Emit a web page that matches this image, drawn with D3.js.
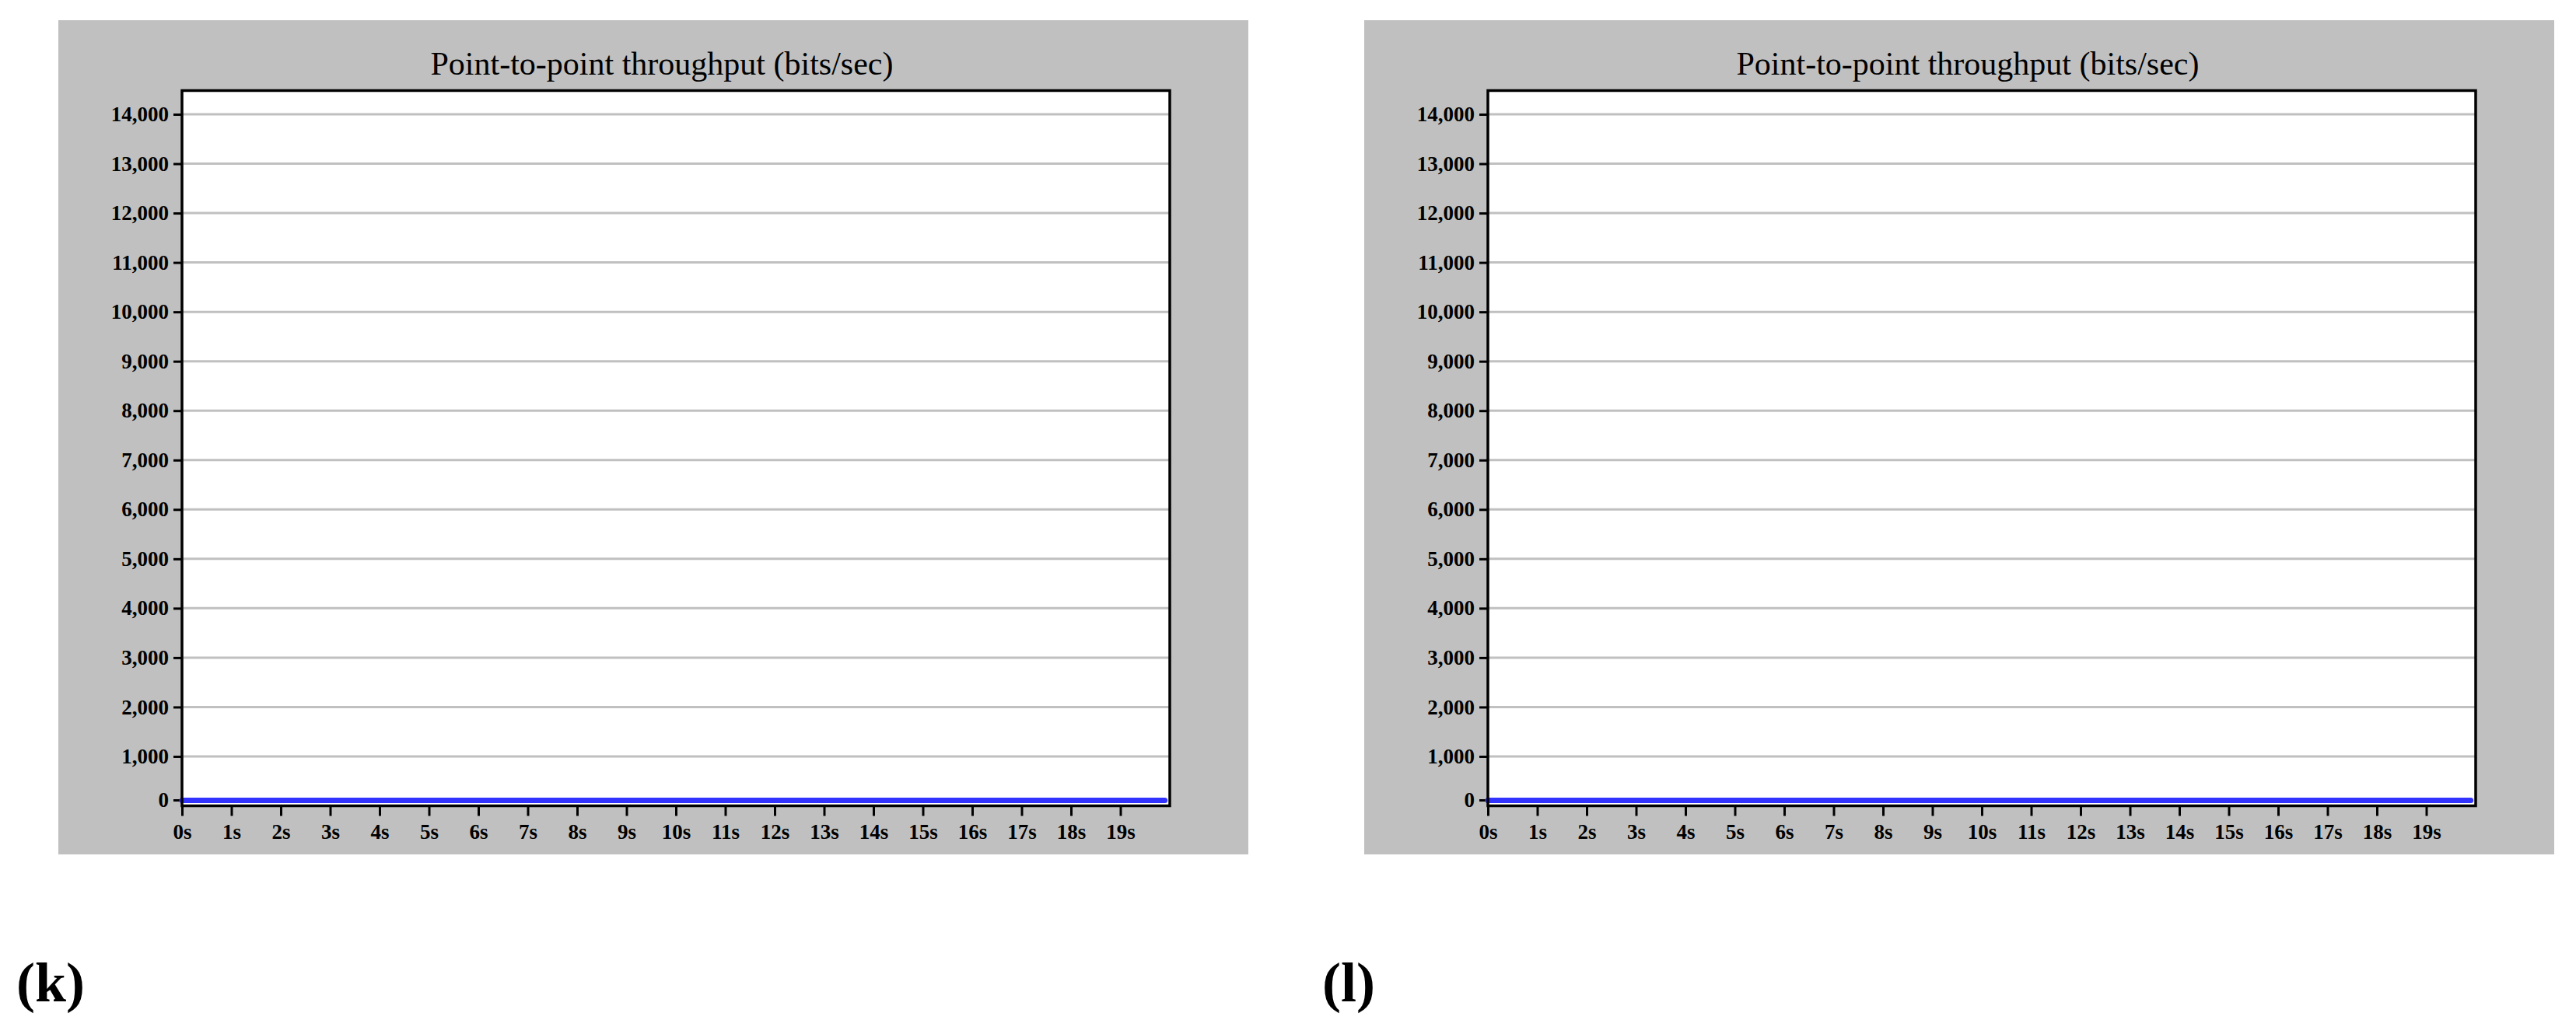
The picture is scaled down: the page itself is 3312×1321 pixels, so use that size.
<!DOCTYPE html>
<html>
<head>
<meta charset="utf-8">
<script src="https://cdn.jsdelivr.net/npm/d3@7"></script>
<style>
  body { margin: 0; background: #fff; }
  text { font-family: "Liberation Serif", "Times New Roman", serif; }
</style>
</head>
<body>
<svg id="viz"></svg>
<script>
var width = 3312;
var height = 1321;

// chart data
var chartTitle = "Point-to-point throughput (bits/sec)";
var panelNames = ["(k)", "(l)"];
var timeSec = [0, 1, 2, 3, 4, 5, 6, 7, 8, 9, 10, 11, 12, 13, 14, 15, 16, 17, 18, 19, 19.9];
var throughputK = [0, 0, 0, 0, 0, 0, 0, 0, 0, 0, 0, 0, 0, 0, 0, 0, 0, 0, 0, 0, 0];
var throughputL = [0, 0, 0, 0, 0, 0, 0, 0, 0, 0, 0, 0, 0, 0, 0, 0, 0, 0, 0, 0, 0];
var yTicks = [0, 1000, 2000, 3000, 4000, 5000, 6000, 7000, 8000, 9000, 10000, 11000, 12000, 13000, 14000];
var xTicks = [0, 1, 2, 3, 4, 5, 6, 7, 8, 9, 10, 11, 12, 13, 14, 15, 16, 17, 18, 19];

var series = [throughputK, throughputL];

var svg = d3.select("#viz")
  .attr("width", width)
  .attr("height", height);

svg.append("rect").attr("width", width).attr("height", height).attr("fill", "#fff");

// panel geometry (left panel, right one is shifted)
var panelShift = 1679;
var bg = { x: 75, y: 26, w: 1530, h: 1073 };
var plot = { left: 234, top: 116.5, right: 1504, bottom: 1036.5 };
var zeroNudge = -7; // the renderer draws the zero line a bit above the frame

var x = d3.scaleLinear().domain([0, 20]).range([plot.left, plot.right]);
var y = d3.scaleLinear().domain([0, 14000]).range([plot.bottom, plot.top + 30.5]);

panelNames.forEach(function (name, i) {
  var g = svg.append("g").attr("transform", "translate(" + (i * panelShift) + ",0)");

  g.append("rect")
    .attr("x", bg.x).attr("y", bg.y)
    .attr("width", bg.w).attr("height", bg.h)
    .attr("fill", "#c0c0c0");

  g.append("rect")
    .attr("x", plot.left).attr("y", plot.top)
    .attr("width", plot.right - plot.left).attr("height", plot.bottom - plot.top)
    .attr("fill", "#fff");

  // gridlines
  g.append("g")
    .selectAll("line")
    .data(yTicks.filter(d => d > 0))
    .join("line")
    .attr("x1", plot.left).attr("x2", plot.right)
    .attr("y1", d => y(d)).attr("y2", d => y(d))
    .attr("stroke", "#c0c0c0")
    .attr("stroke-width", 3);

  // y axis
  var yAxis = g.append("g")
    .attr("transform", "translate(" + plot.left + ",0)")
    .call(d3.axisLeft(y).tickValues(yTicks).tickFormat(d3.format(",")).tickSize(11).tickPadding(6));
  yAxis.select(".domain").remove();
  yAxis.selectAll(".tick")
    .filter(d => d === 0)
    .attr("transform", "translate(0," + (y(0) + zeroNudge) + ")");
  yAxis.selectAll(".tick line").attr("stroke", "#000").attr("stroke-width", 3);
  yAxis.selectAll(".tick text")
    .attr("fill", "#000")
    .style("font-family", "'Liberation Serif', 'Times New Roman', serif")
    .style("font-size", "27px")
    .style("font-weight", "bold");

  // x axis
  var xAxis = g.append("g")
    .attr("transform", "translate(0," + plot.bottom + ")")
    .call(d3.axisBottom(x).tickValues(xTicks).tickFormat(d => d + "s").tickSize(13).tickPadding(10));
  xAxis.select(".domain").remove();
  xAxis.selectAll(".tick line").attr("stroke", "#000").attr("stroke-width", 3);
  xAxis.selectAll(".tick text")
    .attr("fill", "#000")
    .style("font-family", "'Liberation Serif', 'Times New Roman', serif")
    .style("font-size", "27px")
    .style("font-weight", "bold");

  // data line
  var line = d3.line()
    .x((d, j) => x(timeSec[j]))
    .y(d => y(d) + zeroNudge);

  g.append("path")
    .datum(series[i])
    .attr("d", line)
    .attr("fill", "none")
    .attr("stroke", "#3333ff")
    .attr("stroke-width", 7)
    .attr("stroke-linecap", "round");

  // frame
  g.append("rect")
    .attr("x", plot.left).attr("y", plot.top)
    .attr("width", plot.right - plot.left).attr("height", plot.bottom - plot.top)
    .attr("fill", "none")
    .attr("stroke", "#000")
    .attr("stroke-width", 3.5);

  g.append("text")
    .attr("x", 851).attr("y", 96)
    .attr("text-anchor", "middle")
    .style("font-size", "42px")
    .text(chartTitle);

  g.append("text")
    .attr("x", 21).attr("y", 1288)
    .style("font-size", "72px")
    .style("font-weight", "bold")
    .text(name);
});
</script>
</body>
</html>
